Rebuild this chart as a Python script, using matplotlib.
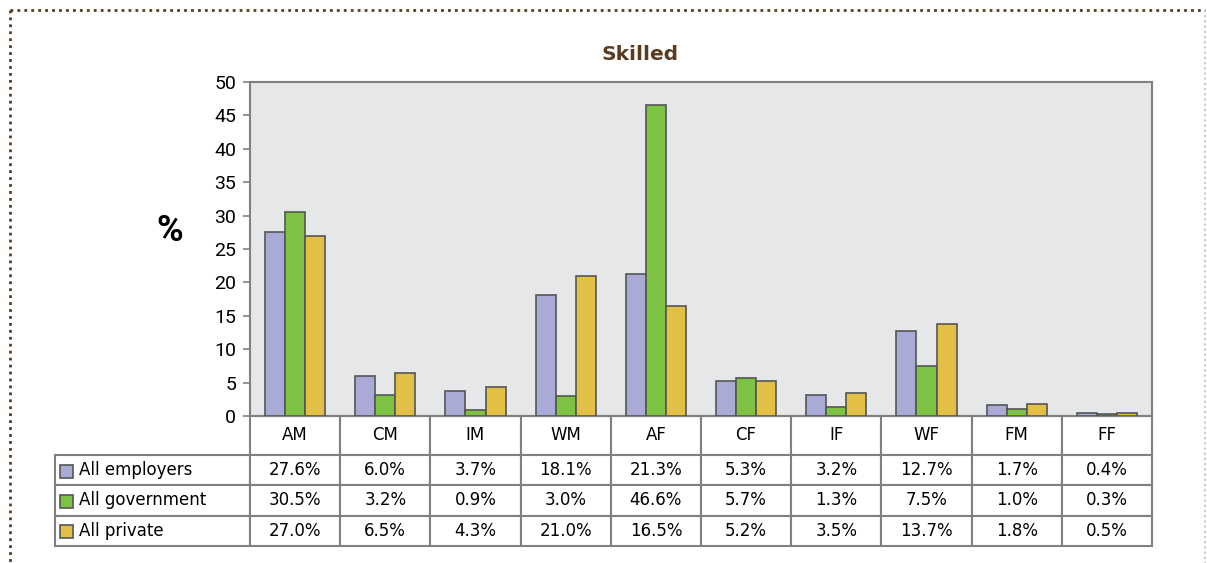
import matplotlib
matplotlib.use("Agg")
import matplotlib.pyplot as plt
from matplotlib.lines import Line2D
from matplotlib.patches import Rectangle
import numpy as np

categories = ['AM', 'CM', 'IM', 'WM', 'AF', 'CF', 'IF', 'WF', 'FM', 'FF']
series_names = ['All employers', 'All government', 'All private']
employers = [27.6, 6.0, 3.7, 18.1, 21.3, 5.3, 3.2, 12.7, 1.7, 0.4]
government = [30.5, 3.2, 0.9, 3.0, 46.6, 5.7, 1.3, 7.5, 1.0, 0.3]
private = [27.0, 6.5, 4.3, 21.0, 16.5, 5.2, 3.5, 13.7, 1.8, 0.5]
series = [employers, government, private]
colors = ['#aaaad6', '#7dc242', '#e2c046']

W, H = 1207, 563
fig = plt.figure(figsize=(W / 100, H / 100), dpi=100)
fig.patch.set_facecolor('white')

ax = fig.add_axes([250 / W, 1 - 416 / H, 902 / W, 334 / H])
ax.set_facecolor('#e6e7e9')

x = np.arange(len(categories))
bw = 0.222
for k, vals in enumerate(series):
    ax.bar(x + (k - 1) * bw, vals, width=bw, color=colors[k],
           edgecolor='#555555', linewidth=1.2, zorder=3)

ax.set_xlim(-0.5, len(categories) - 0.5)
ax.set_ylim(0, 50)
ax.set_yticks(np.arange(0, 51, 5))
ax.set_xticks([])
for s in ax.spines.values():
    s.set_color('#808080')
    s.set_linewidth(1.5)
ax.tick_params(axis='y', length=5, width=1.2, color='#808080', pad=5,
               labelsize=14)
for lab in ax.get_yticklabels():
    lab.set_fontfamily('Roboto')

fig.text(170 / W, 1 - 231 / H, '%', fontsize=26, fontweight='bold',
         family='Roboto', ha='center', va='center')
fig.text(640 / W, 1 - 55 / H, 'Skilled', fontsize=14.5, fontweight='bold',
         color='#5b3b1f', ha='center', va='center', family='DejaVu Sans')

# data table under the chart
header = [''] + categories
rows = []
for name, vals in zip(series_names, series):
    rows.append([name] + ['%.1f%%' % v for v in vals])
tbl = ax.table(cellText=rows, colLabels=header,
               colWidths=[195] + [90.2] * 10, cellLoc='center',
               bbox=[-195 / 902, -130 / 334, 1 + 195 / 902, 130 / 334])
tbl.auto_set_font_size(False)
tbl.set_fontsize(12)
for (r, c), cell in tbl.get_celld().items():
    cell.set_edgecolor('#808080')
    cell.set_linewidth(1.5)
    cell.set_height(39 if r == 0 else 30.5)
    cell.get_text().set_family('DejaVu Sans')
    if r == 0 and c == 0:
        cell.visible_edges = ''
    if c == 0 and r > 0:
        cell.get_text().set_ha('left')
        cell.PAD = 0.125

# legend squares in the row labels
row_centers = [471, 501, 531]
for k, yc in enumerate(row_centers):
    fig.patches.append(Rectangle((60 / W, 1 - (yc + 7) / H), 13 / W, 13 / H,
                                 transform=fig.transFigure, facecolor=colors[k],
                                 edgecolor='#555555', linewidth=1.2, zorder=5))

# dotted frame
fig.add_artist(Line2D([10 / W, 1205 / W], [1 - 10 / H, 1 - 10 / H],
                      transform=fig.transFigure, color='#5b3b1f',
                      linestyle=(0, (1, 1.5)), linewidth=2))
fig.add_artist(Line2D([10 / W, 10 / W], [1 - 10 / H, 0], transform=fig.transFigure,
                      color='#5b3b1f', linestyle=(0, (1, 1.5)), linewidth=2))
fig.add_artist(Line2D([1205 / W, 1205 / W], [1 - 10 / H, 0],
                      transform=fig.transFigure, color='#c8c8c8',
                      linestyle=(0, (1, 1.5)), linewidth=1.5))

fig.savefig('out.png', dpi=100)
